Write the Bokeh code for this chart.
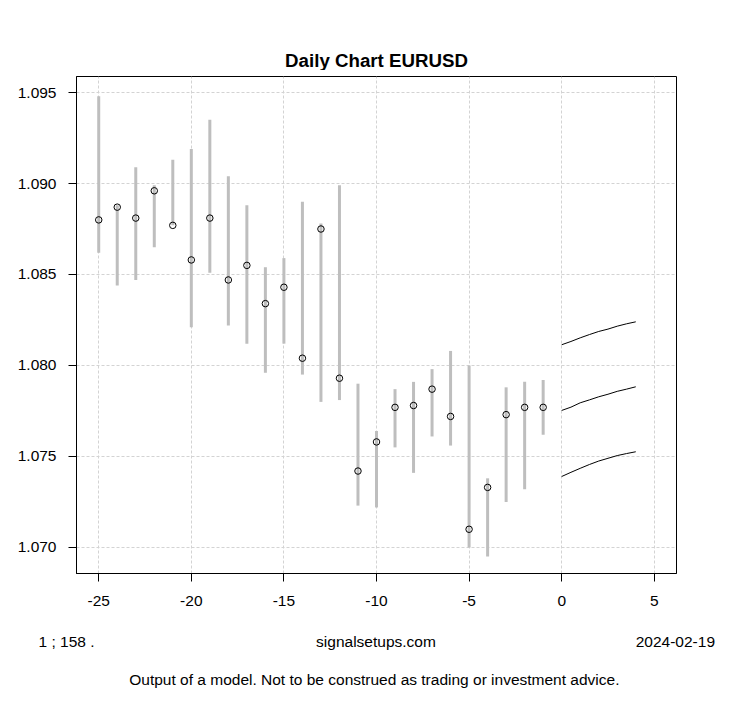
from bokeh.plotting import figure
from bokeh.layouts import column
from bokeh.models import FixedTicker, PrintfTickFormatter, Label, Range1d, ColumnDataSource
from bokeh.embed import file_html
from bokeh.resources import INLINE

# ---- data ----
days = list(range(-25, 0))
close = [1.0880, 1.0887, 1.0881, 1.0896, 1.0877, 1.0858, 1.0881, 1.0847, 1.0855, 1.0834,
         1.0843, 1.0804, 1.0875, 1.0793, 1.0742, 1.0758, 1.0777, 1.0778, 1.0787, 1.0772,
         1.0710, 1.0733, 1.0773, 1.0777, 1.0777]
high = [1.0948, 1.0888, 1.0909, 1.0899, 1.0913, 1.0919, 1.0935, 1.0904, 1.0888, 1.0854,
        1.0859, 1.0890, 1.0878, 1.0899, 1.0790, 1.0764, 1.0787, 1.0791, 1.0798, 1.0808,
        1.0800, 1.0738, 1.0788, 1.0791, 1.0792]
low = [1.0862, 1.0844, 1.0847, 1.0865, 1.0877, 1.0821, 1.0851, 1.0822, 1.0812, 1.0796,
       1.0812, 1.0795, 1.0780, 1.0781, 1.0723, 1.0722, 1.0755, 1.0741, 1.0761, 1.0756,
       1.0700, 1.0695, 1.0725, 1.0732, 1.0762]

fc_days = [0, 0.5, 1, 1.5, 2, 2.5, 3, 3.5, 4]
fc_upper = [1.08114, 1.08132, 1.08152, 1.08170, 1.08187, 1.08200, 1.08216, 1.08229, 1.08240]
fc_mid = [1.07753, 1.07771, 1.07795, 1.07811, 1.07828, 1.07842, 1.07858, 1.07870, 1.07883]
fc_lower = [1.07390, 1.07413, 1.07435, 1.07456, 1.07475, 1.07490, 1.07505, 1.07516, 1.07526]

x_ticks = [-25, -20, -15, -10, -5, 0, 5]
y_ticks = [1.070, 1.075, 1.080, 1.085, 1.090, 1.095]

title_text = "Daily Chart EURUSD"
left_note = "1 ; 158 ."
center_note = "signalsetups.com"
right_note = "2024-02-19"
footer = "Output of a model.  Not to be construed as trading or investment advice."

# ---- layout ----
X0, X1 = -26.2, 6.2
Y0, Y1 = 1.06857, 1.09588
W = 752
HEAD_H = 70          # header strip (title)
TOP_B = 6            # main figure border above frame
FL, FW, FH = 76, 600, 497
BOT_B = 52           # main figure border below frame (x tick labels)
FOOT_H = 81          # footer strip (notes)
FONT = "Liberation Sans"


def text_strip(height):
    f = figure(width=W, height=height, output_backend="svg", toolbar_location=None,
               x_range=Range1d(0, W), y_range=Range1d(0, height),
               min_border=0, min_border_left=0, min_border_right=0,
               min_border_top=0, min_border_bottom=0, frame_align=False)
    f.axis.visible = False
    f.grid.visible = False
    f.outline_line_color = None
    f.background_fill_color = "white"
    f.border_fill_color = "white"
    return f


def add_text(f, txt, px, py, align, size, bold=False):
    f.add_layout(Label(x=px, y=f.height - py, text=txt, text_align=align,
                       text_baseline="middle", text_font=FONT,
                       text_font_size=size, text_color="black",
                       text_font_style="bold" if bold else "normal"))


# header with the title
head = text_strip(HEAD_H)
add_text(head, title_text, 376, 59.5, "center", "18.7px", bold=True)

# main chart
p = figure(width=W, height=TOP_B + FH + BOT_B, output_backend="svg", toolbar_location=None,
           x_range=Range1d(X0, X1), y_range=Range1d(Y0, Y1),
           min_border_left=FL, min_border_right=W - FL - FW,
           min_border_top=TOP_B, min_border_bottom=BOT_B, frame_align=False)
p.background_fill_color = "white"
p.border_fill_color = "white"
p.outline_line_color = "black"
p.outline_line_width = 1

for ax, ticks in ((p.xaxis[0], x_ticks), (p.yaxis[0], y_ticks)):
    ax.ticker = FixedTicker(ticks=ticks)
    ax.axis_line_color = "black"
    ax.major_tick_line_color = "black"
    ax.major_tick_out = 8
    ax.major_tick_in = 0
    ax.minor_tick_line_color = None
    ax.major_label_text_font = FONT
    ax.major_label_text_font_size = "15.5px"
    ax.major_label_text_color = "black"
p.xaxis[0].major_label_standoff = 14
p.yaxis[0].major_label_standoff = 12
p.xaxis[0].formatter = PrintfTickFormatter(format="%d")
p.yaxis[0].formatter = PrintfTickFormatter(format="%.3f")

for g in (p.xgrid[0], p.ygrid[0]):
    g.grid_line_color = "#D3D3D3"
    g.grid_line_dash = "3 2"
    g.grid_line_width = 1

src = ColumnDataSource(dict(day=days, close=close, high=high, low=low))
p.segment(x0="day", y0="low", x1="day", y1="high", source=src,
          line_color="#BEBEBE", line_width=3, line_cap="butt")
p.scatter(x="day", y="close", source=src, size=6.5, marker="circle",
          fill_color=None, line_color="black", line_width=1)

for ys in (fc_upper, fc_mid, fc_lower):
    p.line(fc_days, ys, line_color="black", line_width=1)

# footer with notes (page y measured from the top of the footer strip)
foot = text_strip(FOOT_H)
base = HEAD_H + TOP_B + FH + BOT_B
add_text(foot, left_note, 38, 641 - base, "left", "15.5px")
add_text(foot, center_note, 375.5, 641 - base, "center", "15.5px")
add_text(foot, right_note, 714.5, 641 - base, "right", "15.5px")
add_text(foot, footer, 376, 679 - base, "center", "15.5px")

layout = column(head, p, foot, spacing=0)
open("out.html", "w").write(file_html(layout, INLINE))
